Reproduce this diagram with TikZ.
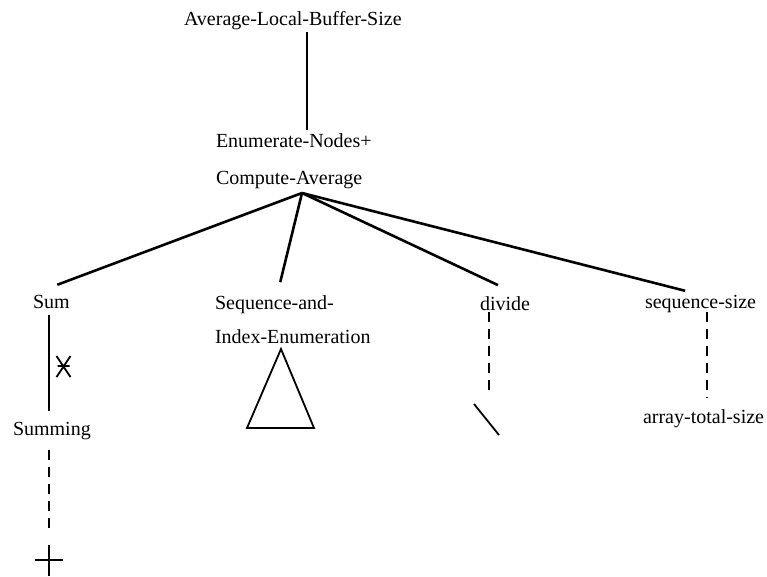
\documentclass[tikz,border=0pt]{standalone}
\usepackage{fontspec}
\setmainfont{Liberation Serif}
\tikzset{
  % plain words of the tree
  word/.style={inner sep=0pt, outer sep=0pt, anchor=base west, font=\fontsize{20}{24}\selectfont},
  % two-line words (base is the last line)
  pair/.style={word, align=left, font=\fontsize{20}{35}\selectfont},
  % edges of the tree
  branch/.style={line width=2.6pt},
  link/.style={line width=1.8pt},
  elided/.style={line width=2pt, dash pattern=on 10pt off 7pt},
}

\begin{document}
\begin{tikzpicture}[x=1pt, y=-1pt]
  \useasboundingbox (0,0) rectangle (767,576);

  \node[word] (top) at (184,25) {Average-Local-Buffer-Size};
  \node[pair] (enum) at (216,184) {Enumerate-Nodes+\\[2pt]Compute-Average};

  \node[word] (sum) at (33,308) {Sum};
  \node[pair] (seq) at (215,343) {Sequence-and-\\[-1pt]Index-Enumeration};
  \node[word] (div) at (480,310) {divide};
  \node[word] (ssize) at (645,308) {sequence-size};

  \node[word] (summing) at (13,435) {Summing};
  \node[word] (arr) at (643,423) {array-total-size};

  \coordinate (stem) at (307,0);
  \coordinate (fan) at (302,193);
  \coordinate (sumline) at (49,0);
  \coordinate (star) at (63.5,366);
  \coordinate (plus) at (49,560);
  \coordinate (tri) at (281,349);
  \coordinate (divend) at (489,393);
  \coordinate (szline) at (707,0);

  % root
  \draw[link, shorten <=3pt, shorten >=3pt] (top.south -| stem) -- (enum.north -| stem);

  % fan out
  \draw[branch] (fan) -- ([shift={(6pt,10pt)}]sum.north);
  \draw[branch] (fan) -- ([shift={(-12.5pt,13pt)}]seq.north);
  \draw[branch] (fan) -- ([shift={(-7pt,11pt)}]div.north);
  \draw[branch] (fan) -- ([shift={(-15.5pt,4pt)}]ssize.north);

  % Sum
  \draw[link, shorten <=7pt, shorten >=11pt] (sum.south -| sumline) -- (summing.north -| sumline);
  \draw[link] ([shift={(-7pt,10pt)}]star) -- ([shift={(7pt,-11pt)}]star)
              ([shift={(7pt,10pt)}]star) -- ([shift={(-7pt,-11pt)}]star)
              ([xshift=-6pt]star) -- ([xshift=6pt]star);
  \draw[elided, shorten <=11pt] (summing.south -| plus) -- ([yshift=30pt]plus);
  \draw[link] ([xshift=-14pt]plus) -- ([xshift=14pt]plus)
              ([yshift=15pt]plus) -- ([yshift=-16pt]plus);

  % Sequence-and-Index-Enumeration
  \draw[link, line join=miter] (tri) -- ++(33,79) -- ++(-67,0) -- cycle;

  % divide
  \draw[elided, shorten <=2pt] (div.south -| divend) -- (divend);
  \draw[link] ([shift={(-15pt,-11pt)}]divend) -- ++(25,31);

  % sequence-size
  \draw[elided, shorten >=11pt] (ssize.south -| szline) -- (arr.north -| szline);
\end{tikzpicture}
\end{document}
